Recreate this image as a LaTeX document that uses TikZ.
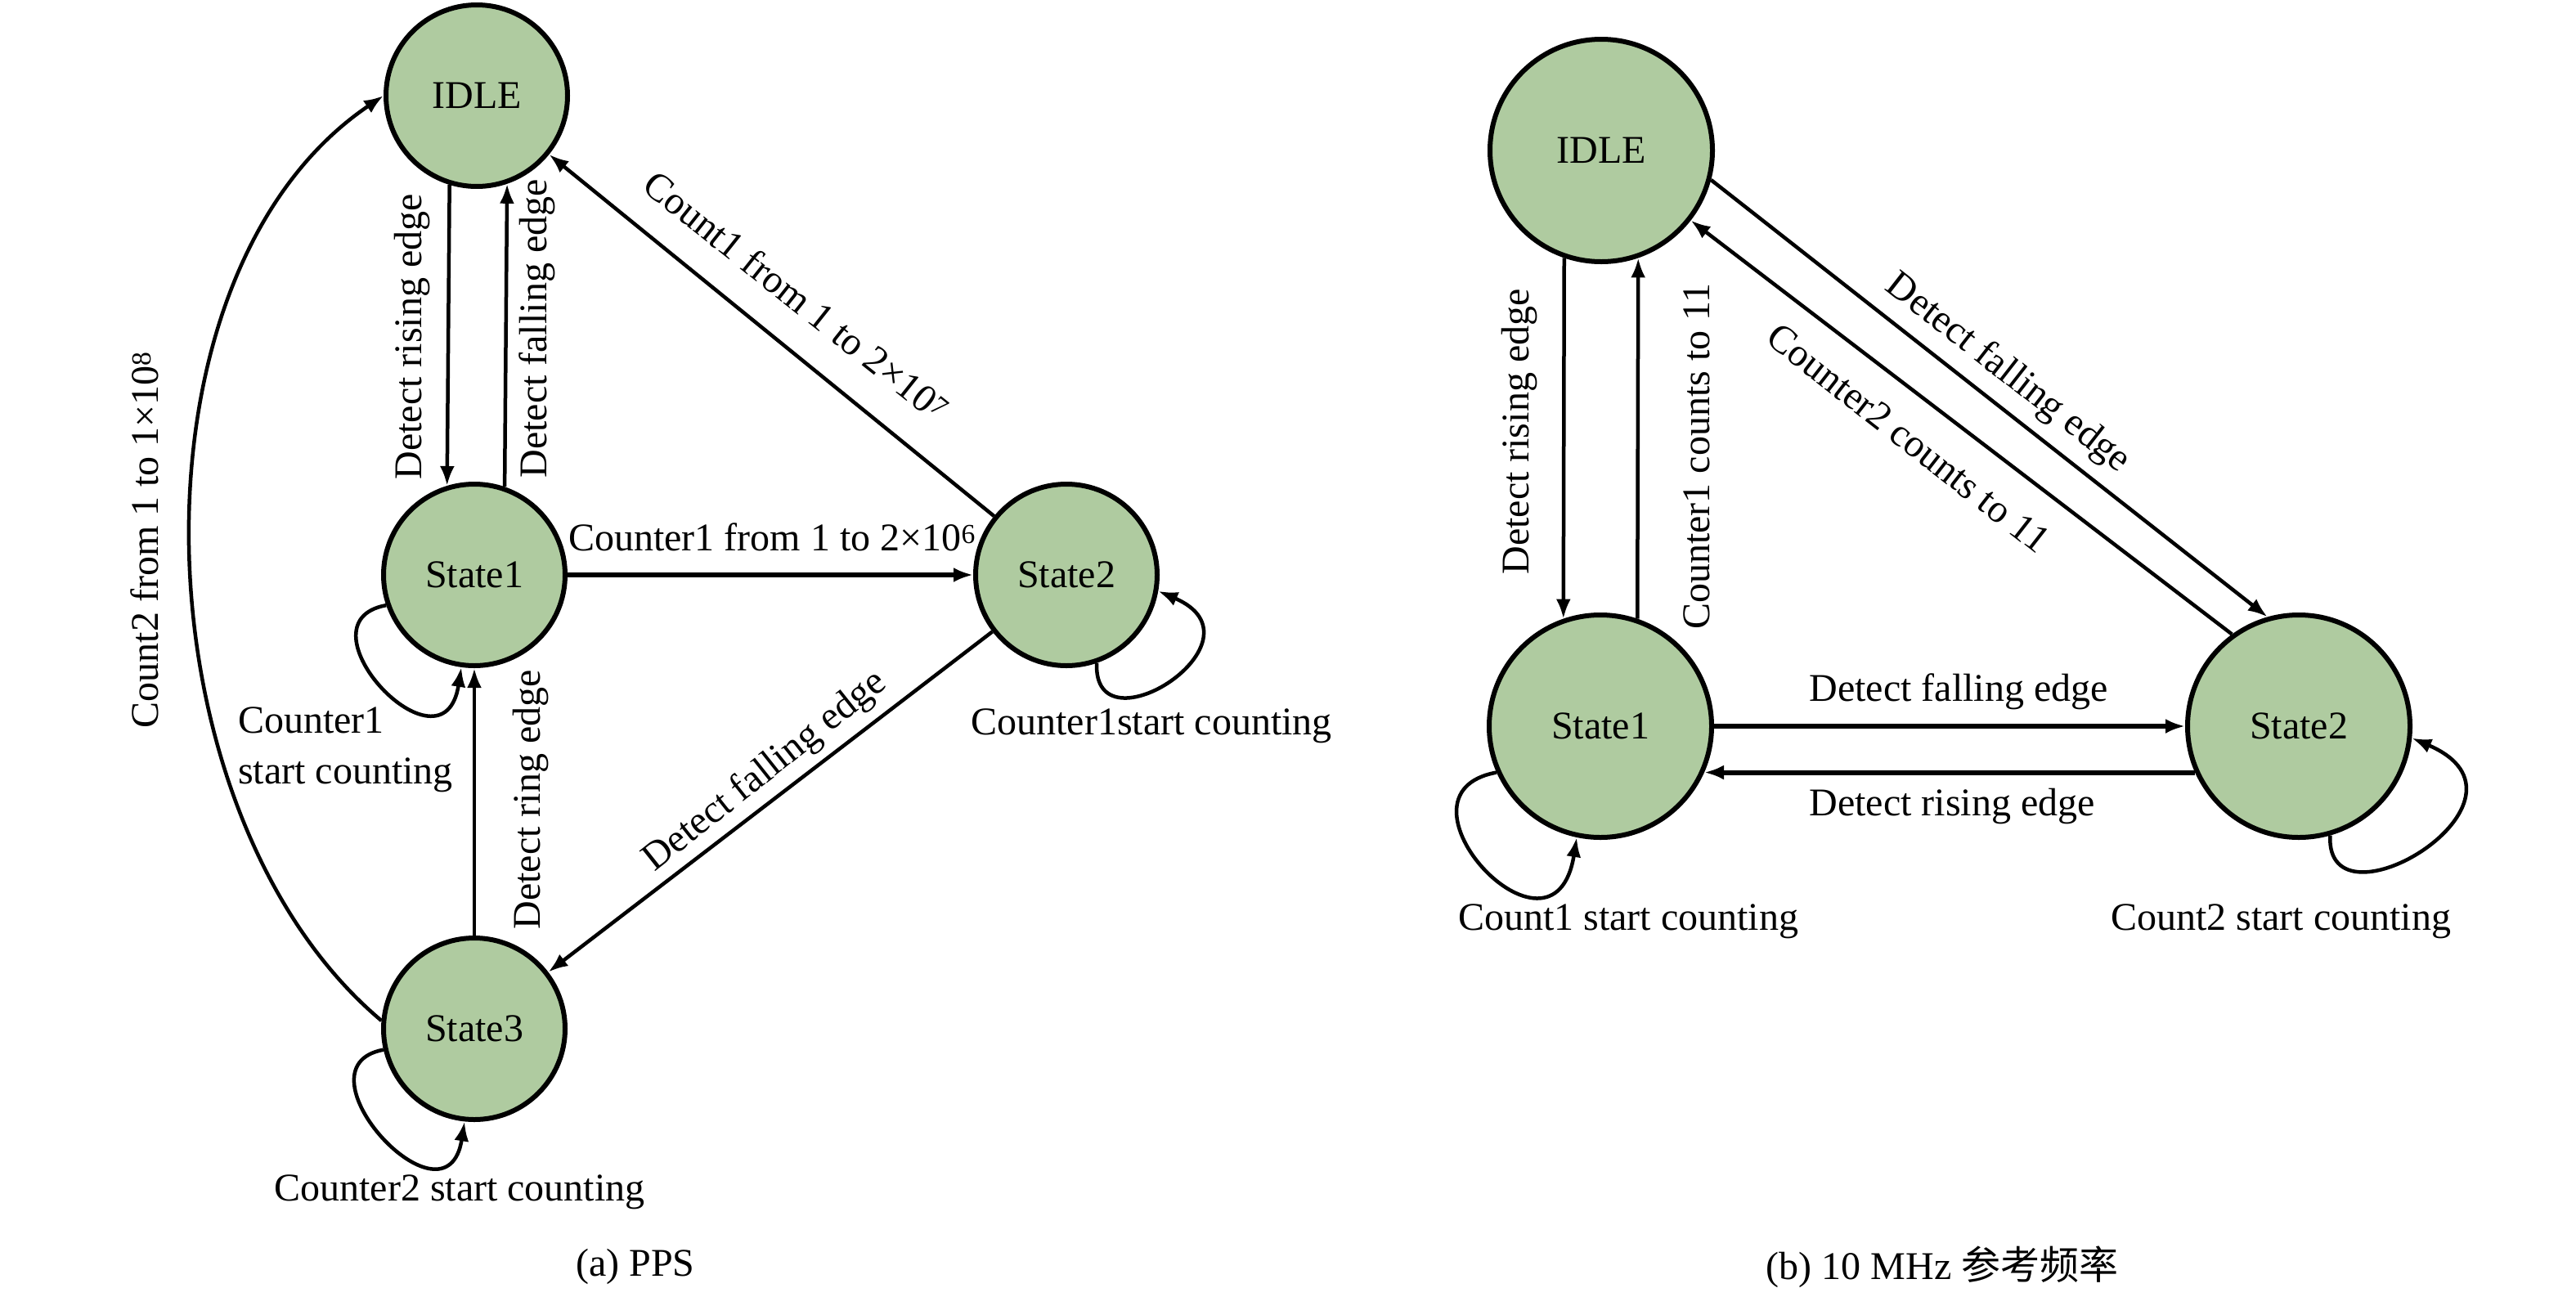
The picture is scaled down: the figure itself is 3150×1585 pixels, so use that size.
\documentclass[tikz,border=0pt]{standalone}
\usepackage{fontspec}
\setmainfont{Liberation Serif}
\newfontfamily\cjk{Noto Sans CJK SC}
\usetikzlibrary{arrows.meta}
\definecolor{stfill}{RGB}{175,203,160}
\begin{document}
\begin{tikzpicture}[x=1pt,y=-1pt,
  every node/.style={font=\fontsize{48}{62}\selectfont},
  sta/.style={circle, draw=black, line width=6pt, fill=stfill, minimum size=222pt, inner sep=0pt},
  stb/.style={sta, minimum size=272pt},
  arr/.style={line width=4.5pt, -{Latex[length=24pt,width=18pt]}},
  thk/.style={arr, line width=6pt},
  lbl/.style={inner sep=0pt}]
\useasboundingbox[fill=white] (0,0) rectangle (3150,1585);
% ---------- panel (a) ----------
\node[sta] (idle) at (583,117) {IDLE};
\node[sta] (s1) at (580,703) {State1};
\node[sta] (s2) at (1304,703) {State2};
\node[sta] (s3) at (580,1258) {State3};

\draw[arr] (idle.253) -- (s1.107);
\draw[arr] (s1.71) -- (idle.289);
\draw[thk] (s1) -- (s2);
\draw[arr] (s2) -- (idle);
\draw[arr] (s2) -- (s3);
\draw[arr] (s3) -- (s1);
\draw[arr] (s3.175) .. controls +(-300,-252) and +(-325,220) .. (idle.180);
\draw[arr] (s1.199) .. controls +(-114,21) and +(-22,141) .. (s1.262);
\draw[arr] (s2.289) .. controls +(-5,113) and +(140,60) .. (s2.350);
\draw[arr] (s3.193) .. controls +(-114,21) and +(-22,141) .. (s3.264);

\node[lbl, rotate=90] (la1) at (504,412) {Detect rising edge};
\node[lbl, rotate=90] (la2) at (657,402) {Detect falling edge};
\node[lbl, rotate=-38.5] (la3) at (974,362) {Count1 from 1 to 2×10\textsuperscript{7}};
\node[lbl] (la4) at (944,657) {Counter1 from 1 to 2×10\textsuperscript{6}};
\node[lbl, rotate=38.5] (la5) at (936,944) {Detect falling edge};
\node[lbl, rotate=90] (la6) at (649,978) {Detect ring edge};
\node[lbl, rotate=90] (la7) at (177,660) {Count2 from 1 to 1×10\textsuperscript{8}};
\node[lbl, align=left, anchor=west] (la8) at (291,917) {Counter1\\start counting};
\node[lbl] (la9) at (1408,888) {Counter1start counting};
\node[lbl] (la10) at (562,1458) {Counter2 start counting};
\node[lbl] (capa) at (777,1549) {(a) PPS};

% ---------- panel (b) ----------
\node[stb] (idleb) at (1958,184) {IDLE};
\node[stb] (s1b) at (1957,888) {State1};
\node[stb] (s2b) at (2811,888) {State2};

\draw[arr] (idleb.251) -- (s1b.109);
\draw[arr] (s1b.71) -- (idleb.289);
\draw[arr] (idleb.-15) -- (s2b.106);
\draw[arr] (s2b.126) -- (idleb.-38);
\draw[thk] (s1b.east) -- (s2b.west);
\draw[thk] (s2b.204) -- (s1b.-24);
\draw[arr] (s1b.204) .. controls +(-143,26) and +(-28,176) .. (s1b.258);
\draw[arr] (s2b.286) .. controls +(-6,125) and +(175,75) .. (s2b.354);

\node[lbl, rotate=90] (lb1) at (1858,528) {Detect rising edge};
\node[lbl, rotate=90] (lb2) at (2075,558) {Counter1 counts to 11};
\node[lbl, rotate=-38] (lb3) at (2455,457) {Detect falling edge};
\node[lbl, rotate=-38] (lb4) at (2334,536) {Counter2 counts to 11};
\node[lbl] (lb5) at (2395,846) {Detect falling edge};
\node[lbl] (lb6) at (2387,986) {Detect rising edge};
\node[lbl] (lb7) at (1991,1127) {Count1 start counting};
\node[lbl] (lb8) at (2789,1127) {Count2 start counting};
\node[lbl] (capb) at (2375,1549) {(b) 10 MHz {\cjk 参考频率}};
\end{tikzpicture}
\end{document}
